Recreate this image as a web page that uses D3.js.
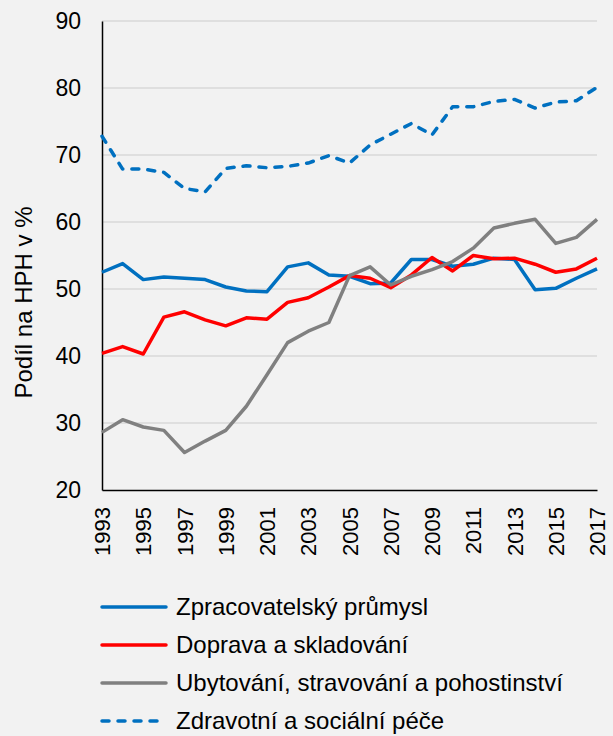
<!DOCTYPE html>
<html>
<head>
<meta charset="utf-8">
<script src="https://cdn.jsdelivr.net/npm/d3@7"></script>
<style>
  html, body { margin: 0; padding: 0; background: #f2f2f2; }
  svg { display: block; font-family: Arial, "Liberation Sans", sans-serif; }
</style>
</head>
<body>
<script>
// DATA
// =============================================================================

const years = d3.range(1993, 2018);

const zpracovatelsky = [52.5, 53.8, 51.4, 51.8, 51.6, 51.4, 50.3, 49.7, 49.6, 53.3, 53.9, 52.1, 51.9,
                        50.8, 50.9, 54.4, 54.4, 53.4, 53.7, 54.6, 54.4, 49.9, 50.1, 51.6, 53.0];
const doprava = [40.4, 41.4, 40.3, 45.8, 46.6, 45.4, 44.5, 45.7, 45.5, 48.0, 48.7, 50.3, 52.0,
                 51.6, 50.2, 52.1, 54.7, 52.7, 55.0, 54.5, 54.6, 53.7, 52.5, 53.0, 54.6];
const ubytovani = [28.6, 30.5, 29.4, 28.9, 25.6, 27.3, 28.9, 32.5, 37.2, 42.0, 43.7, 45.0, 52.0,
                   53.3, 50.6, 51.9, 52.9, 54.1, 56.1, 59.1, 59.8, 60.4, 56.8, 57.7, 60.4];
const zdravotni = [72.8, 67.9, 67.9, 67.4, 65.0, 64.5, 68.0, 68.4, 68.1, 68.3, 68.8, 69.9, 68.8,
                   71.5, 73.1, 74.7, 73.0, 77.2, 77.2, 78.0, 78.3, 77.0, 77.9, 78.1, 80.1];

const seriesNames = ["Zpracovatelský průmysl", "Doprava a skladování",
                     "Ubytování, stravování a pohostinství", "Zdravotní a sociální péče"];
const yTicks = [20, 30, 40, 50, 60, 70, 80, 90];
const xTicks = d3.range(1993, 2018, 2);

// CONFIG
// =============================================================================

const width = 613;
const height = 736;
const plot = { left: 102, right: 597, top: 21, bottom: 490 };

const series = [
  { name: seriesNames[0], values: zpracovatelsky, color: "#0070c0", dash: null },
  { name: seriesNames[1], values: doprava, color: "#ff0000", dash: null },
  { name: seriesNames[2], values: ubytovani, color: "#808080", dash: null },
  { name: seriesNames[3], values: zdravotni, color: "#0070c0", dash: "7,9" }
];

// SCALES
// =============================================================================

const xScale = d3.scaleLinear()
    .domain([1993, 2017])
    .range([plot.left, plot.right]);

const yScale = d3.scaleLinear()
    .domain([20, 90])
    .range([plot.bottom, plot.top]);

// SVG
// =============================================================================

const svg = d3.select("body")
    .append("svg")
    .attr("width", width)
    .attr("height", height);

svg.append("rect")
    .attr("width", width)
    .attr("height", height)
    .attr("fill", "#f2f2f2");

// gridlines
svg.append("g")
    .selectAll("line")
    .data(yTicks.filter(d => d > 20))
    .enter()
    .append("line")
    .attr("x1", plot.left)
    .attr("x2", plot.right)
    .attr("y1", d => yScale(d))
    .attr("y2", d => yScale(d))
    .attr("stroke", "#d9d9d9")
    .attr("stroke-width", 1.5);

// y axis
const yAxis = svg.append("g")
    .attr("transform", `translate(${plot.left},0)`)
    .call(d3.axisLeft(yScale).tickValues(yTicks).tickSize(0).tickPadding(21));
yAxis.select(".domain").attr("stroke", "#000").attr("stroke-width", 1.5);
yAxis.selectAll("text")
    .style("font-size", "23px")
    .attr("fill", "#000");

// x axis
const xAxis = svg.append("g")
    .attr("transform", `translate(0,${plot.bottom})`)
    .call(d3.axisBottom(xScale).tickValues(xTicks).tickFormat(d3.format("d")).tickSize(0));
xAxis.select(".domain").attr("stroke", "#000").attr("stroke-width", 1.5);
xAxis.selectAll("text")
    .style("font-size", "22px")
    .attr("fill", "#000")
    .attr("transform", "rotate(-90)")
    .attr("x", -17)
    .attr("y", 0)
    .attr("dy", "0.35em")
    .style("text-anchor", "end");

// y axis title
svg.append("text")
    .attr("transform", `translate(32,${(plot.top + plot.bottom) / 2 + 47}) rotate(-90)`)
    .attr("text-anchor", "middle")
    .style("font-size", "24px")
    .attr("fill", "#000")
    .text("Podíl na HPH v %");

// LINES
// =============================================================================

const line = d3.line()
    .x((d, i) => xScale(years[i]))
    .y(d => yScale(d));

svg.append("g")
    .selectAll("path")
    .data(series)
    .enter()
    .append("path")
    .attr("d", d => line(d.values))
    .attr("fill", "none")
    .attr("stroke", d => d.color)
    .attr("stroke-width", 3.5)
    .attr("stroke-linejoin", "round")
    .attr("stroke-linecap", d => d.dash ? "round" : "butt")
    .attr("stroke-dasharray", d => d.dash);

// LEGEND
// =============================================================================

const legend = svg.append("g")
    .selectAll("g")
    .data(series)
    .enter()
    .append("g")
    .attr("transform", (d, i) => `translate(100,${607 + i * 38})`);

legend.append("line")
    .attr("x1", 2)
    .attr("x2", 66)
    .attr("stroke", d => d.color)
    .attr("stroke-width", 3.5)
    .attr("stroke-linecap", "round")
    .attr("stroke-dasharray", d => d.dash);

legend.append("text")
    .attr("x", 76)
    .attr("dy", "0.33em")
    .style("font-size", "24px")
    .attr("fill", "#000")
    .text(d => d.name);
</script>
</body>
</html>
